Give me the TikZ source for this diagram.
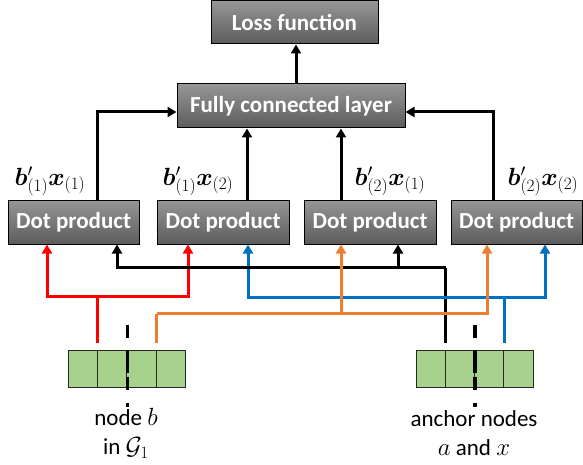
\documentclass[tikz,border=0pt]{standalone}
\usepackage{fontspec}
\usepackage{bm}
\newfontfamily\carlito{Carlito}
\usetikzlibrary{arrows.meta,calc}
\definecolor{cred}{RGB}{255,0,0}
\definecolor{cblue}{RGB}{0,112,192}
\definecolor{corange}{RGB}{237,125,49}
\definecolor{cgreen}{RGB}{169,209,142}
\definecolor{boxtop}{RGB}{150,150,150}
\definecolor{boxbot}{RGB}{92,92,92}
\begin{document}
\begin{tikzpicture}[x=1pt,y=-1pt,
  graybox/.style={draw=black, line width=1pt, top color=boxtop, bottom color=boxbot,
    text=white, font=\carlito\bfseries\fontsize{23}{27}\selectfont, inner sep=0pt,
    minimum height=44pt},
  cell/.style={draw=black!85, line width=1pt, fill=cgreen, minimum width=29.4pt,
    minimum height=37pt, inner sep=0pt},
  conn/.style={line width=3pt},
  arr/.style={conn, -{Triangle[length=9pt,width=10pt]}},
  lab/.style={font=\fontsize{23}{27}\selectfont, inner sep=0pt},
  btxt/.style={font=\carlito\fontsize{23}{29}\selectfont, align=center, inner sep=0pt},
  dashline/.style={line width=3.5pt, dash pattern=on 13pt off 12pt on 23pt off 4pt on 13pt off 13pt on 4pt off 60pt}]
\useasboundingbox (0,0) rectangle (583,465);

% boxes
\node[graybox, minimum width=167pt, minimum height=43pt] (loss) at (294.5,22.5) {Loss function};
\node[graybox, minimum width=228pt] (fc) at (291,106) {Fully connected layer};
\node[graybox, minimum width=131pt] (d1) at (73.5,222) {Dot product};
\node[graybox, minimum width=132pt] (d2) at (223,222) {Dot product};
\node[graybox, minimum width=132pt] (d3) at (370,222) {Dot product};
\node[graybox, minimum width=131pt] (d4) at (516.5,222) {Dot product};

% labels
\node[lab] (l1) at (50,181) {$\bm{b}'_{(1)}\bm{x}_{(1)}$};
\node[lab] (l2) at (198,181) {$\bm{b}'_{(1)}\bm{x}_{(2)}$};
\node[lab] (l3) at (390,181) {$\bm{b}'_{(2)}\bm{x}_{(1)}$};
\node[lab] (l4) at (543,181) {$\bm{b}'_{(2)}\bm{x}_{(2)}$};

% vectors
\foreach \n/\x in {a/82.7,b/112.1,c/141.5,d/170.9}
  \node[cell] (v1\n) at (\x,368.5) {};
\foreach \n/\x in {a/430.6,b/459.9,c/489.1,d/518.4}
  \node[cell, minimum width=29.2pt] (v2\n) at (\x,368.5) {};

% bottom texts
\node[btxt] (t1) at (126,433) {node $b$\\in $\mathcal{G}_1$};
\node[btxt] (t2) at (474,433) {anchor nodes\\$a$ and $x$};

% upper connectors
\draw[arr] ([xshift=5pt]fc.north) -- ([xshift=5pt]fc.north |- loss.south);
\draw[arr] ([xshift=23.5pt]d1.north) |- ([yshift=-6pt]fc.west);
\draw[arr] ([xshift=24pt]d2.north) -- ([xshift=24pt]d2.north |- fc.south);
\draw[arr] ([xshift=-29pt]d3.north) -- ([xshift=-29pt]d3.north |- fc.south);
\draw[arr] ([xshift=-23.5pt]d4.north) |- ([yshift=-6pt]fc.east);

% red
\draw[conn, cred] ([yshift=7pt]v1a.north east) -- ++(0,-46) coordinate (rj);
\draw[arr, cred] (rj) -| ([xshift=-26.5pt]d1.south);
\draw[arr, cred] (rj) -| ([xshift=-35pt]d2.south);

% blue (left branch under black)
\coordinate (bluej) at ([yshift=7pt]v2c.north east);
\draw[arr, cblue] ($(bluej)+(0,-45)$) -| ([xshift=25pt]d2.south);

% black
\draw[conn] ([yshift=7pt]v2a.north east) -- ++(0,-75) coordinate (bj);
\draw[arr] (bj) -| ([xshift=43.5pt]d1.south);
\draw[arr] ([xshift=28pt]d3.south |- bj) -- ([xshift=28pt]d3.south);

% blue rest
\draw[conn, cblue] (bluej) -- ++(0,-45) coordinate (bluek);
\draw[conn, cblue] ($(bluek)+(-80,0)$) -- (bluek);
\draw[arr, cblue] (bluek) -| ([xshift=28.5pt]d4.south);

% orange
\draw[conn, corange] ([yshift=7pt]v1c.north east) -- ++(0,-29) coordinate (oj);
\draw[arr, corange] (oj) -| ([xshift=-29.5pt]d4.south);
\draw[arr, corange] ([xshift=-29pt]d3.south |- oj) -- ([xshift=-29pt]d3.south);

% dashed
\draw[dashline] ([yshift=25pt]v1b.north east) -- ([yshift=-20pt]v1b.south east);
\draw[dashline] ([yshift=25pt]v2b.north east) -- ([yshift=-20pt]v2b.south east);
\end{tikzpicture}
\end{document}
